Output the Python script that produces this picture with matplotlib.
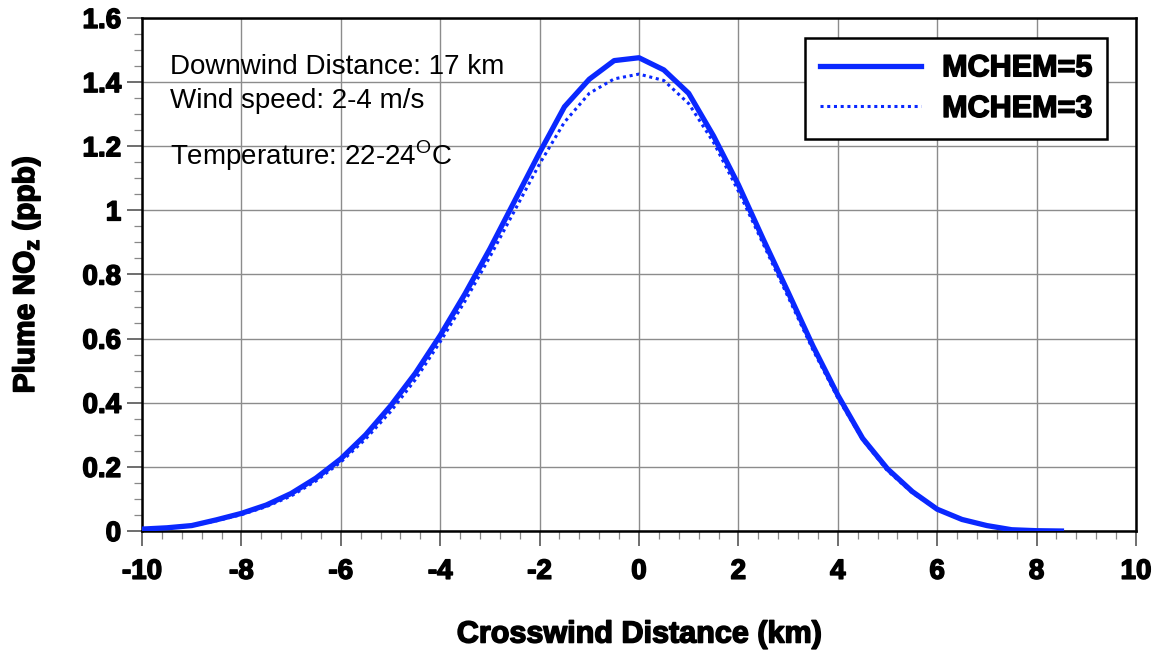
import matplotlib.pyplot as plt
import matplotlib.patheffects as pe
from matplotlib.ticker import MultipleLocator

plt.rcParams['font.family'] = ['Liberation Sans', 'DejaVu Sans']
plt.rcParams['mathtext.fontset'] = 'custom'
plt.rcParams['mathtext.rm'] = 'Liberation Sans'
plt.rcParams['mathtext.bf'] = 'Liberation Sans:bold'
plt.rcParams['axes.unicode_minus'] = False

# crosswind positions (km) and plume NOz (ppb) for the two chemistry options
distance = [-10, -9.5, -9, -8.5, -8, -7.5, -7, -6.5, -6, -5.5, -5, -4.5, -4,
            -3.5, -3, -2.5, -2, -1.5, -1, -0.5, 0, 0.5, 1, 1.5, 2, 2.5, 3,
            3.5, 4, 4.5, 5, 5.5, 6, 6.5, 7, 7.5, 8, 8.5]
mchem5 = [0.006, 0.010, 0.017, 0.035, 0.055, 0.081, 0.117, 0.165, 0.225, 0.300,
          0.390, 0.492, 0.610, 0.740, 0.880, 1.030, 1.180, 1.323, 1.409, 1.467,
          1.476, 1.438, 1.365, 1.232, 1.080, 0.910, 0.745, 0.577, 0.424, 0.289,
          0.194, 0.123, 0.068, 0.036, 0.017, 0.004, 0.001, 0.000]
mchem3 = [0.005, 0.009, 0.016, 0.032, 0.051, 0.076, 0.109, 0.156, 0.215, 0.287,
          0.372, 0.472, 0.590, 0.717, 0.855, 1.000, 1.145, 1.275, 1.365, 1.410,
          1.425, 1.405, 1.333, 1.212, 1.060, 0.895, 0.730, 0.565, 0.415, 0.285,
          0.188, 0.119, 0.067, 0.035, 0.016, 0.004, 0.001, 0.000]

blue = '#0a28ff'
# heavier look for the bold labels
heavy = [pe.withStroke(linewidth=1.1, foreground='black')]

fig = plt.figure(figsize=(11.62, 6.51), dpi=100)
ax = fig.add_axes([0.1222, 0.1843, 0.8554, 0.7881])

ax.plot(distance, mchem5, color=blue, lw=3.8, label='MCHEM=5', zorder=3)
ax.plot(distance, mchem3, color=blue, lw=2.2, linestyle=(0, (1, 1.2)),
        label='MCHEM=3', zorder=3)

ax.set_xlim(-10, 10)
ax.set_ylim(0, 1.6)
ax.xaxis.set_major_locator(MultipleLocator(2))
ax.xaxis.set_minor_locator(MultipleLocator(0.4))
ax.yaxis.set_major_locator(MultipleLocator(0.2))
ax.yaxis.set_minor_locator(MultipleLocator(0.05))
ax.yaxis.set_major_formatter(plt.FuncFormatter(lambda v, p: '%g' % round(v, 2)))

ax.grid(True, which='major', color='#8c8c8c', lw=1.0, zorder=0)
ax.set_axisbelow(True)
for s in ax.spines.values():
    s.set_linewidth(1.8)
    s.set_color('black')

ax.tick_params(which='major', direction='out', length=11, width=1.2,
               color='#555555', labelsize=20)
ax.tick_params(which='minor', direction='out', length=6, width=0.9,
               color='#888888')
ax.tick_params(axis='x', which='major', pad=9)
ax.tick_params(axis='y', which='major', pad=4)
for lab in ax.get_xticklabels() + ax.get_yticklabels():
    lab.set_fontweight('bold')
    lab.set_path_effects(heavy)

xl = ax.set_xlabel('Crosswind Distance (km)', fontsize=22, fontweight='bold',
                   labelpad=25)
yl = ax.set_ylabel(r'Plume NO$_\mathbf{z}$ (ppb)', fontsize=21.5,
                   fontweight='bold', labelpad=29)
xl.set_path_effects(heavy)
yl.set_path_effects(heavy)

ax.text(0.028, 0.891, 'Downwind Distance: 17 km', transform=ax.transAxes,
        fontsize=20, va='baseline')
ax.text(0.028, 0.825, 'Wind speed: 2-4 m/s', transform=ax.transAxes,
        fontsize=20, va='baseline')
ax.text(0.028, 0.713, r'Temperature: 22-24$^{\mathrm{O}}$C',
        transform=ax.transAxes, fontsize=20, va='baseline')

leg = ax.legend(loc='upper right', bbox_to_anchor=(0.971, 0.961),
                borderaxespad=0, fancybox=False, framealpha=1,
                edgecolor='black', handlelength=3.3, handletextpad=0.7,
                borderpad=0.5, labelspacing=0.35,
                prop={'weight': 'bold', 'size': 22})
leg.get_frame().set_linewidth(1.8)
for t in leg.get_texts():
    t.set_path_effects(heavy)

fig.savefig('out.png', dpi=100)
